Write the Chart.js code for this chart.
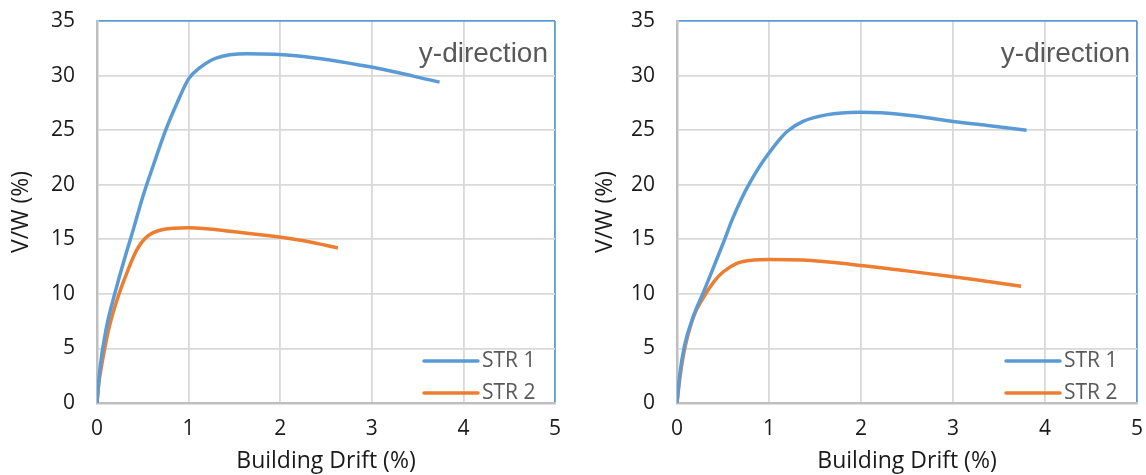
<!DOCTYPE html>
<html>
<head>
<meta charset="utf-8">
<script src="https://cdn.jsdelivr.net/npm/chart.js@4.4.1/dist/chart.umd.min.js"></script>
<style>
  body { margin: 0; background: #fff; }
  #wrap { position: relative; width: 1146px; height: 475px; }
  #leftChart { position: absolute; left: 0; top: 0; }
  #rightChart { position: absolute; left: 580px; top: 0; }
</style>
</head>
<body>
<div id="wrap">
  <canvas id="leftChart" width="570" height="475"></canvas>
  <canvas id="rightChart" width="566" height="475"></canvas>
</div>
<script>
// axis ticks
const driftTicks = [0, 1, 2, 3, 4, 5];
const shearTicks = [0, 5, 10, 15, 20, 25, 30, 35];
const seriesNames = ["STR 1", "STR 2"];
const panelNote = "y-direction";

// left panel pushover curves
const leftStr1Drift = [0, 0.03, 0.1, 0.2, 0.3, 0.4, 0.5, 0.62, 0.75, 0.88, 1.0, 1.12, 1.3, 1.64, 2.2, 2.98, 3.74];
const leftStr1VW    = [0, 3.0, 6.8, 10.2, 13.2, 16.0, 18.9, 21.9, 25.0, 27.6, 29.7, 30.7, 31.6, 32.0, 31.8, 30.8, 29.4];
const leftStr2Drift = [0, 0.02, 0.054, 0.126, 0.217, 0.325, 0.433, 0.54, 0.72, 1.0, 1.5, 1.99, 2.3, 2.63];
const leftStr2VW    = [0, 1.8, 3.6, 6.7, 9.4, 11.9, 14.0, 15.2, 15.9, 16.05, 15.7, 15.2, 14.8, 14.2];

// right panel pushover curves
const rightStr1Drift = [0, 0.03, 0.08, 0.18, 0.29, 0.4, 0.5, 0.6, 0.7, 0.8, 0.9, 1.0, 1.1, 1.2, 1.37, 1.62, 1.98, 2.22, 2.59, 3.0, 3.4, 3.8];
const rightStr1VW    = [0, 2.6, 5.2, 8.0, 10.2, 12.5, 14.6, 16.8, 18.7, 20.3, 21.7, 22.9, 24.0, 24.9, 25.8, 26.4, 26.65, 26.6, 26.3, 25.8, 25.4, 25.0];
const rightStr2Drift = [0, 0.03, 0.072, 0.18, 0.29, 0.4, 0.5, 0.65, 0.83, 1.0, 1.37, 1.9, 2.4, 2.98, 3.4, 3.74];
const rightStr2VW    = [0, 2.2, 4.5, 7.9, 9.7, 11.1, 12.0, 12.8, 13.1, 13.15, 13.1, 12.7, 12.2, 11.6, 11.1, 10.7];

const blue = "#5B9BD5";
const orange = "#ED7D31";
const gridGray = "#D9D9D9";
const axisGray = "#BFBFBF";
const noteGray = "#595959";
const textFont = "'Open Sans'";

function toPoints(xs, ys) {
  return xs.map((x, i) => ({ x: x, y: ys[i] }));
}

// legend in the lower right corner + the panel note in the upper right
const cornerText = {
  id: "cornerText",
  afterDraw(chart) {
    const ctx = chart.ctx;
    const area = chart.chartArea;
    ctx.save();
    // note
    ctx.font = "28px 'Liberation Sans', Arial, sans-serif";
    ctx.fillStyle = noteGray;
    ctx.textAlign = "right";
    ctx.textBaseline = "alphabetic";
    ctx.fillText(panelNote, area.right - 7, area.top + 41);
    // legend
    ctx.font = "21px " + textFont + ", sans-serif";
    ctx.textAlign = "left";
    ctx.textBaseline = "middle";
    chart.data.datasets.forEach((ds, i) => {
      const y = area.bottom - 42 + i * 32;
      ctx.strokeStyle = ds.borderColor;
      ctx.lineWidth = 3.5;
      ctx.lineCap = "round";
      ctx.beginPath();
      ctx.moveTo(area.right - 131, y);
      ctx.lineTo(area.right - 77, y);
      ctx.stroke();
      ctx.fillStyle = noteGray;
      ctx.fillText(ds.label, area.right - 73, y);
    });
    ctx.restore();
  }
};

function makeChart(id, s1x, s1y, s2x, s2y, rightPad, yTitleGap) {
  return new Chart(document.getElementById(id), {
    type: "scatter",
    data: {
      datasets: [
        { label: seriesNames[0], data: toPoints(s1x, s1y), borderColor: blue },
        { label: seriesNames[1], data: toPoints(s2x, s2y), borderColor: orange }
      ].map(d => Object.assign(d, {
        showLine: true,
        borderWidth: 3.5,
        pointRadius: 0,
        cubicInterpolationMode: "monotone",
        fill: false
      }))
    },
    options: {
      responsive: false,
      animation: false,
      layout: { padding: { top: 21, right: rightPad, bottom: 0, left: 0 } },
      plugins: { legend: { display: false }, tooltip: { enabled: false } },
      scales: {
        x: {
          type: "linear",
          min: driftTicks[0],
          max: driftTicks[driftTicks.length - 1],
          afterBuildTicks: s => { s.ticks = driftTicks.map(v => ({ value: v })); },
          afterFit: s => { s.height = 72; s.paddingLeft = 0; s.paddingRight = 0; },
          grid: {
            drawTicks: false,
            lineWidth: 1.8,
            color: c => (c.tick && c.tick.value === driftTicks[driftTicks.length - 1]) ? blue : gridGray
          },
          border: { color: axisGray, width: 2.5 },
          ticks: { padding: 13, color: "#1a1a1a", font: { family: textFont, size: 21 } },
          title: {
            display: true,
            text: "Building Drift (%)",
            color: "#1a1a1a",
            font: { family: textFont, size: 23 },
            padding: { top: 0, bottom: 0 }
          }
        },
        y: {
          type: "linear",
          min: shearTicks[0],
          max: shearTicks[shearTicks.length - 1],
          afterBuildTicks: s => { s.ticks = shearTicks.map(v => ({ value: v })); },
          afterFit: s => { s.width = 97; s.paddingTop = 0; s.paddingBottom = 0; },
          grid: {
            drawTicks: false,
            lineWidth: 1.8,
            color: c => (c.tick && c.tick.value === shearTicks[shearTicks.length - 1]) ? blue : gridGray
          },
          border: { color: axisGray, width: 2.5 },
          ticks: { padding: 22, color: "#1a1a1a", font: { family: textFont, size: 21 } },
          title: {
            display: true,
            text: "V/W (%)",
            color: "#1a1a1a",
            font: { family: textFont, size: 23 },
            padding: { top: yTitleGap, bottom: 0 }
          }
        }
      }
    },
    plugins: [cornerText]
  });
}

makeChart("leftChart", leftStr1Drift, leftStr1VW, leftStr2Drift, leftStr2VW, 15, 8);
makeChart("rightChart", rightStr1Drift, rightStr1VW, rightStr2Drift, rightStr2VW, 9, 12);
</script>
</body>
</html>
